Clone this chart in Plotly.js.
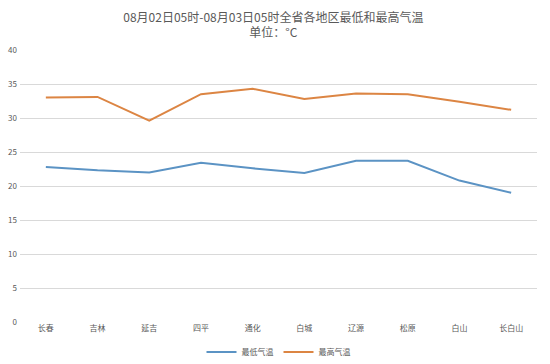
<!DOCTYPE html>
<html>
<head>
<meta charset="utf-8">
<script src="https://cdn.plot.ly/plotly-3.0.1.min.js"></script>
<style>html,body{margin:0;padding:0;background:#fff;}#chart{width:550px;height:364px;}</style>
</head>
<body>
<div id="chart"></div>
<script>
const categories = ["长春","吉林","延吉","四平","通化","白城","辽源","松原","白山","长白山"];
const lowTemps = [22.8, 22.3, 22.0, 23.4, 22.6, 21.9, 23.7, 23.7, 20.8, 19.0];
const highTemps = [33.0, 33.1, 29.6, 33.5, 34.3, 32.8, 33.6, 33.5, 32.4, 31.2];
const yTicks = [0,5,10,15,20,25,30,35,40];

const font = "'Noto Sans CJK SC', 'Microsoft YaHei', sans-serif";
const traces = [
  {x: categories, y: lowTemps, type: 'scatter', mode: 'lines', name: '最低气温',
   line: {color: '#5b93c4', width: 2}},
  {x: categories, y: highTemps, type: 'scatter', mode: 'lines', name: '最高气温',
   line: {color: '#dc8543', width: 2}}
];
const layout = {
  width: 550, height: 364,
  margin: {l: 20, r: 13, t: 50, b: 42},
  paper_bgcolor: '#fff', plot_bgcolor: '#fff',
  font: {family: font, color: '#595959', size: 8},
  title: {text: '08月02日05时-08月03日05时全省各地区最低和最高气温<br>单位：°C',
          x: 0.497, xanchor: 'center', yref: 'container', y: 0.94, yanchor: 'middle',
          font: {family: font, size: 12, color: '#595959'}, automargin: false},
  xaxis: {type: 'category', range: [-0.5, 9.5], showgrid: false, zeroline: false, showline: false,
          ticks: '', tickfont: {size: 8, color: '#595959'}, automargin: false},
  yaxis: {range: [0, 40], tickvals: yTicks, showgrid: true, gridcolor: '#d9d9d9', gridwidth: 1,
          zeroline: false, showline: false, ticks: '', tickfont: {size: 8, color: '#595959'},
          automargin: false, ticklabelstandoff: 2},
  showlegend: true,
  legend: {orientation: 'h', x: 0.5, xanchor: 'center', yref: 'container', y: 0.033, yanchor: 'middle',
           font: {size: 8, color: '#595959'}, itemwidth: 30}
};
Plotly.newPlot('chart', traces, layout, {displayModeBar: false, staticPlot: true});
</script>
</body>
</html>
